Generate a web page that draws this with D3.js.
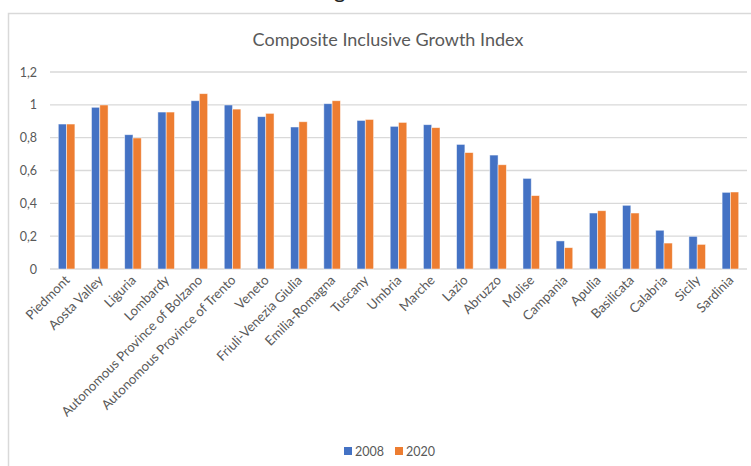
<!DOCTYPE html>
<html>
<head>
<meta charset="utf-8">
<script src="https://cdn.jsdelivr.net/npm/d3@7/dist/d3.min.js"></script>
<style>
  html, body { margin: 0; padding: 0; background: #fff; }
  svg { display: block; }
  text { font-family: Lato, "Open Sans", sans-serif; }
</style>
</head>
<body>
<svg id="chart" width="751" height="466"></svg>
<script>
// Regions of Italy
const regions = [
  "Piedmont", "Aosta Valley", "Liguria", "Lombardy",
  "Autonomous Province of Bolzano", "Autonomous Province of Trento",
  "Veneto", "Friuli-Venezia Giulia", "Emilia-Romagna", "Tuscany",
  "Umbria", "Marche", "Lazio", "Abruzzo", "Molise", "Campania",
  "Apulia", "Basilicata", "Calabria", "Sicily", "Sardinia"
];

// Composite Inclusive Growth Index by year
const values2008 = [0.883, 0.985, 0.818, 0.956, 1.025, 0.999, 0.928, 0.865, 1.007, 0.905,
                    0.869, 0.879, 0.759, 0.694, 0.552, 0.171, 0.341, 0.388, 0.236, 0.199, 0.467];
const values2020 = [0.883, 0.999, 0.798, 0.956, 1.068, 0.974, 0.948, 0.897, 1.025, 0.911,
                    0.893, 0.861, 0.709, 0.635, 0.447, 0.130, 0.355, 0.341, 0.158, 0.150, 0.469];

const seriesNames = ["2008", "2020"];
const seriesColors = ["#4472C4", "#ED7D31"];
const yTicks = [0, 0.2, 0.4, 0.6, 0.8, 1, 1.2];

const rows = regions.map((r, i) => ({ region: r, values: [values2008[i], values2020[i]] }));

const svg = d3.select("#chart");

// chart frame
svg.append("rect")
  .attr("x", 8.5).attr("y", 13.5)
  .attr("width", 760).attr("height", 470)
  .attr("fill", "#fff")
  .attr("stroke", "#d9d9d9").attr("stroke-width", 1.5);

// descender of the heading line above the chart
svg.append("text")
  .attr("x", 334).attr("y", -2)
  .attr("font-family", "Liberation Serif, serif")
  .attr("font-size", 22)
  .attr("fill", "#222")
  .text("g");

// title
svg.append("text")
  .attr("x", 388).attr("y", 46)
  .attr("text-anchor", "middle")
  .attr("font-size", 18)
  .attr("fill", "#595959")
  .text("Composite Inclusive Growth Index");

const plot = { left: 50, right: 747, top: 72, bottom: 269 };

const x = d3.scaleBand()
  .domain(regions)
  .range([plot.left, plot.right])
  .paddingInner(0).paddingOuter(0);

const x1 = d3.scaleBand()
  .domain(seriesNames)
  .range([0, x.bandwidth()])
  .paddingInner(0).paddingOuter(1);

const y = d3.scaleLinear()
  .domain([0, 1.2])
  .range([plot.bottom, plot.top]);

// gridlines
svg.append("g")
  .selectAll("line")
  .data(yTicks)
  .join("line")
  .attr("x1", plot.left).attr("x2", plot.right)
  .attr("y1", d => y(d)).attr("y2", d => y(d))
  .attr("stroke", "#d9d9d9").attr("stroke-width", 1.3);

// y axis labels
const yAxis = d3.axisLeft(y)
  .tickValues(yTicks)
  .tickSize(0)
  .tickPadding(0)
  .tickFormat(d => d3.format("~g")(d).replace(".", ","));
const yg = svg.append("g")
  .attr("transform", "translate(37,0)")
  .call(yAxis);
yg.select(".domain").remove();
yg.selectAll("text")
  .attr("font-family", "Lato, sans-serif")
  .attr("font-size", 12.5)
  .attr("fill", "#595959");

// bars
const groups = svg.append("g")
  .selectAll("g")
  .data(rows)
  .join("g")
  .attr("transform", d => `translate(${x(d.region)},0)`);

groups.selectAll("rect")
  .data(d => d.values.map((v, i) => ({ key: seriesNames[i], value: v, color: seriesColors[i] })))
  .join("rect")
  .attr("x", d => x1(d.key))
  .attr("y", d => y(d.value))
  .attr("width", x1.bandwidth())
  .attr("height", d => y(0) - y(d.value))
  .attr("fill", d => d.color)
  .attr("stroke", "#fff")
  .attr("stroke-opacity", 0.6)
  .attr("stroke-width", 0.8);

// category labels
const xAxis = d3.axisBottom(x).tickSize(0).tickPadding(0);
const xg = svg.append("g")
  .attr("transform", `translate(0,${plot.bottom})`)
  .call(xAxis);
xg.select(".domain").remove();
xg.selectAll("text")
  .attr("font-family", "Lato, sans-serif")
  .attr("font-size", 13.2)
  .attr("fill", "#595959")
  .attr("text-anchor", "end")
  .attr("dy", 0)
  .attr("transform", "translate(4,12) rotate(-45)");

// legend
const legend = svg.append("g")
  .selectAll("g")
  .data(seriesNames)
  .join("g")
  .attr("transform", (d, i) => `translate(${344 + i * 51},447)`);
legend.append("rect")
  .attr("width", 8).attr("height", 8)
  .attr("fill", (d, i) => seriesColors[i]);
legend.append("text")
  .attr("x", 11).attr("y", 9)
  .attr("font-size", 12.5)
  .attr("fill", "#595959")
  .text(d => d);
</script>
</body>
</html>
